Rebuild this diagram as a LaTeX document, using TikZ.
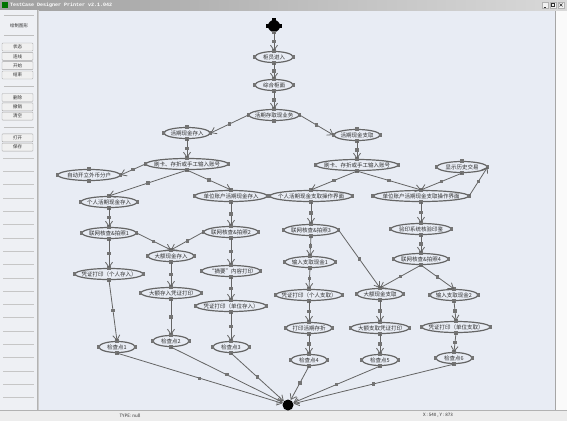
\documentclass[tikz,border=0pt]{standalone}
\usepackage{fontspec}
\newfontfamily\cjk{Noto Sans CJK SC}
\setmonofont{Liberation Mono}
\usetikzlibrary{arrows.meta, shapes.geometric, decorations.markings}
\definecolor{canvas}{HTML}{E8ECF4}
\definecolor{panel}{HTML}{EEF0F4}
\definecolor{linegray}{HTML}{656565}
\definecolor{handle}{HTML}{747474}
\definecolor{inkgray}{HTML}{2E2E2E}

\tikzset{
  state/.style={ellipse, draw=linegray, line width=1.2pt, fill=canvas, inner xsep=-40pt, inner ysep=-10pt, minimum height=11, text=inkgray, font=\cjk\fontsize{5.5}{6}\selectfont},
  link/.style={draw=linegray, line width=0.8pt, -{Straight Barb[length=5pt,width=7pt]}, postaction={decorate, decoration={markings, mark=at position 0.5 with {\pgftransformresetnontranslations\fill[handle] (-1.7pt,-1.7pt) rectangle (1.7pt,1.7pt);}}}},
  tool/.style={draw=gray!70, fill=gray!12, rounded corners=0.8, minimum width=31, minimum height=8, inner sep=0, font=\cjk\fontsize{4.5}{5}\selectfont, text=inkgray},
  status/.style={font=\cjk\fontsize{4.5}{5}\selectfont, text=inkgray, inner sep=0},
}

\begin{document}
\begin{tikzpicture}[x=1pt, y=-1pt]
  \useasboundingbox (0,0) rectangle (567,421);
  % window
  \fill[canvas] (38,10) rectangle (555,410);
  \fill[gray!4] (555,10) rectangle (567,410);
  \draw[gray!70] (555,10) -- (555,410);
  \shade[left color=gray!75, right color=gray!30] (0,0) rectangle (567,10);
  \fill[green!45!black] (2,2) rectangle (8,8);
  \node[anchor=west, inner sep=0, text=white, font=\ttfamily\bfseries\fontsize{5}{6}\selectfont] (title) at (10,5) {TestCase Designer Printer v2.1.042};
  \foreach \x/\s in {545/winmin, 553/winmax, 561/winclose}
    \node[draw=gray!60, fill=gray!10, minimum size=6.5, inner sep=0] (\s) at (\x,5) {};
  \draw[inkgray, line width=0.6pt] (543.5,7) -- (546,7);
  \draw[inkgray, line width=0.5pt] (551.5,3.5) rectangle (554.5,6.5);
  \draw[inkgray, line width=0.6pt] (559.5,3.5) -- (562.5,6.5) (559.5,6.5) -- (562.5,3.5);
  % status bar
  \fill[gray!14] (0,410) rectangle (567,421);
  \draw[gray!60] (0,410) -- (567,410);
  \node[status] (typeinfo) at (130,415.5) {TYPE: null};
  \node[status] (posinfo) at (438,415.5) {X : 540 , Y : 873};
  % tool panel
  \fill[panel] (0,10) rectangle (37,410);
  \draw[gray!60] (37,10) -- (37,410);
  \draw[gray!40] (38.5,10) -- (38.5,410);
  \foreach \y in {15,35,86,127} \draw[gray!50] (4,\y) -- (34,\y);
  \node[status] (draw) at (19,26) {绘制图形};
  \node[tool] (tstate) at (17.5,47) {状态};
  \node[tool] (tline) at (17.5,56.3) {连线};
  \node[tool] (tbegin) at (17.5,65.6) {开始};
  \node[tool] (tfinish) at (17.5,75) {结束};
  \node[tool] (tdelete) at (17.5,97.5) {删除};
  \node[tool] (tundo) at (17.5,106.8) {撤销};
  \node[tool] (tclear) at (17.5,116.1) {清空};
  \node[tool] (topen) at (17.5,137.8) {打开};
  \node[tool] (tsave) at (17.5,147.1) {保存};
  \foreach \y in {158,171.3,...,400} \draw[gray!45] (3,\y) -- (34,\y);

  % flow
  \node[circle, fill=black, minimum size=12, inner sep=0] (start) at (274,26) {};
  \foreach \a in {north,east,west}
    \fill (start.\a) ++(-2,-2) rectangle ++(4,4);
  \node[state, minimum width=38] (guiyuan) at (274,57) {柜员进入};
  \node[state, minimum width=38] (zonghe) at (274,85) {综合柜面};
  \node[state, minimum width=50] (yewu) at (274,115) {活期存取现业务};
  \node[state, minimum width=46] (cunru) at (187,133) {活期现金存入};
  \node[state, minimum width=46] (zhiqu) at (357,135) {活期现金支取};
  \node[state, minimum width=82] (shuaka1) at (187,164) {刷卡、存折或手工输入账号};
  \node[state, minimum width=82] (shuaka2) at (357,165) {刷卡、存折或手工输入账号};
  \node[state, minimum width=50] (lishi) at (462,167) {显示历史交易};
  \node[state, minimum width=62] (zidong) at (89,175) {自动开立外币分户};
  \node[state, minimum width=56] (gerencun) at (109,202) {个人活期现金存入};
  \node[state, minimum width=72] (danweicun) at (231,196) {单位账户活期现金存入};
  \node[state, minimum width=82] (gerenqu) at (311,196) {个人活期现金支取操作界面};
  \node[state, minimum width=95] (danweiqu) at (421,196) {单位账户活期现金支取操作界面};
  \node[state, minimum width=54] (lianwang1) at (109,233) {联网核查\&拍照1};
  \node[state, minimum width=54] (lianwang2) at (231,232) {联网核查\&拍照2};
  \node[state, minimum width=54] (lianwang3) at (311,230) {联网核查\&拍照3};
  \node[state, minimum width=60] (yanyin) at (421,229) {验印系统核验印鉴};
  \node[state, minimum width=54] (lianwang4) at (421,259) {联网核查\&拍照4};
  \node[state, minimum width=46] (dae) at (171,256) {大额现金存入};
  \node[state, minimum width=58] (zhaiyao) at (231,271) {“摘要”内容打印};
  \node[state, minimum width=68] (pz1) at (109,274) {凭证打印（个人存入）};
  \node[state, minimum width=60] (daecunpz) at (171,293) {大额存入凭证打印};
  \node[state, minimum width=70] (pz2) at (231,306) {凭证打印（单位存入）};
  \node[state, minimum width=50] (shuru1) at (310,262) {输入支取现金1};
  \node[state, minimum width=46] (daequ) at (380,294) {大额现金支取};
  \node[state, minimum width=48] (shuru2) at (454,295) {输入支取现金2};
  \node[state, minimum width=66] (pz3) at (309,295) {凭证打印（个人支取）};
  \node[state, minimum width=46] (cunzhe) at (309,328) {打印活期存折};
  \node[state, minimum width=58] (daequpz) at (380,328) {大额支取凭证打印};
  \node[state, minimum width=68] (pz4) at (456,327) {凭证打印（单位支取）};
  \node[state, minimum width=36] (check1) at (117,347) {检查点1};
  \node[state, minimum width=36] (check2) at (171,341) {检查点2};
  \node[state, minimum width=36] (check3) at (231,347) {检查点3};
  \node[state, minimum width=36] (check4) at (309,360) {检查点4};
  \node[state, minimum width=36] (check5) at (380,360) {检查点5};
  \node[state, minimum width=36] (check6) at (454,358) {检查点6};
  \node[circle, fill=black, minimum size=11, inner sep=0] (finish) at (288,405) {};

  % handles
  \fill[handle] (start.south) ++(-1.7,-1.7) rectangle ++(3.4,3.4);
  \foreach \n in {guiyuan,zonghe,yewu,cunru,zhiqu,shuaka1,shuaka2,lishi,zidong,gerencun,danweicun,gerenqu,danweiqu,lianwang1,lianwang2,lianwang3,yanyin,lianwang4,dae,zhaiyao,pz1,daecunpz,pz2,shuru1,daequ,shuru2,pz3,cunzhe,daequpz,pz4,check1,check2,check3,check4,check5,check6}
    \foreach \a in {north,south,east,west}
      \fill[handle] (\n.\a) ++(-1.7,-1.7) rectangle ++(3.4,3.4);

  % connectors
  \foreach \a/\b in {start.south/guiyuan.north, guiyuan.south/zonghe.north, zonghe.south/yewu.north,
      yewu.west/cunru.east, yewu.east/zhiqu.west, cunru.south/shuaka1.north, zhiqu.south/shuaka2.north,
      shuaka1.west/zidong.east, shuaka1.south/gerencun.north, shuaka1.south/danweicun.north,
      gerencun.south/lianwang1.north, danweicun.south/lianwang2.north,
      lianwang1.east/dae.north, lianwang2.west/dae.north,
      lianwang1.south/pz1.north, lianwang2.south/zhaiyao.north, dae.south/daecunpz.north,
      zhaiyao.south/pz2.north, pz1.south/check1.north, daecunpz.south/check2.north, pz2.south/check3.north,
      shuaka2.south/gerenqu.north, shuaka2.south/danweiqu.north, lishi.south/danweiqu.north,
      danweiqu.east/lishi.east, danweiqu.south/yanyin.north, yanyin.south/lianwang4.north,
      gerenqu.south/lianwang3.north, lianwang3.south/shuru1.north, lianwang3.east/daequ.north,
      lianwang4.south/daequ.north, lianwang4.south/shuru2.north,
      shuru1.south/pz3.north, pz3.south/cunzhe.north, cunzhe.south/check4.north,
      daequ.south/daequpz.north, daequpz.south/check5.north,
      shuru2.south/pz4.north, pz4.south/check6.north}
    \draw[link] (\a) -- (\b);
  \foreach \n in {check1,check2,check3,check4,check5,check6}
    \draw[link] (\n.south) -- (finish);
\end{tikzpicture}
\end{document}
